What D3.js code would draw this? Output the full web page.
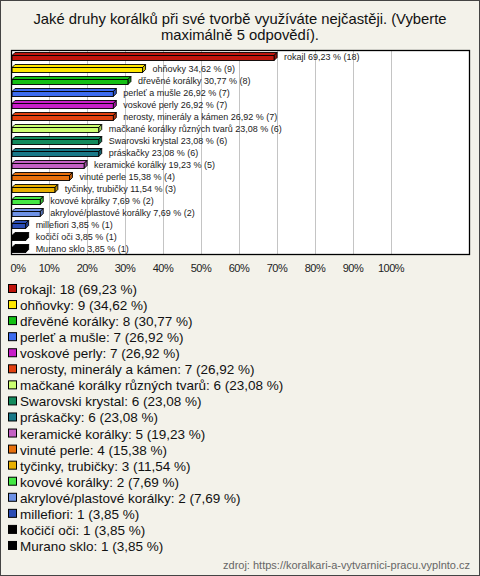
<!DOCTYPE html>
<html><head><meta charset="utf-8">
<script src="https://cdn.jsdelivr.net/npm/d3@7"></script>
<style>body{margin:0;background:#fff}svg{display:block}text{font-family:"Liberation Sans",Arial,sans-serif}</style>
</head><body><svg id="c" width="480" height="576"></svg>
<script>
const categories = ["rokajl","ohňovky","dřevěné korálky","perleť a mušle","voskové perly","nerosty, minerály a kámen","mačkané korálky různých tvarů","Swarovski krystal","práskačky","keramické korálky","vinuté perle","tyčinky, trubičky","kovové korálky","akrylové/plastové korálky","millefiori","kočičí oči","Murano sklo"];
const counts = [18,9,8,7,7,7,6,6,6,5,4,3,2,2,1,1,1];
const percents = [69.23,34.62,30.77,26.92,26.92,26.92,23.08,23.08,23.08,19.23,15.38,11.54,7.69,7.69,3.85,3.85,3.85];
const colors = ["#c0150c","#ffe800","#14c014","#3c6cf0","#c81ec8","#e3400f","#ccff70","#128a5c","#187888","#c460c4","#e8700c","#e8b000","#44e844","#6e92e6","#2a4cb4","#000000","#000000"];
const tickValues = [0,10,20,30,40,50,60,70,80,90,100];
const fmt = v => v.toFixed(2).replace(".", ",");

const svg = d3.select("#c");
svg.append("rect").attr("x",0.5).attr("y",0.5).attr("width",479).attr("height",575).attr("fill","#f3f2ea").attr("stroke","#444");
svg.append("text").attr("x",240).attr("y",24).attr("text-anchor","middle").attr("font-size",14.8).attr("fill","#111").text("Jaké druhy korálků při své tvorbě využíváte nejčastěji. (Vyberte");
svg.append("text").attr("x",240).attr("y",40).attr("text-anchor","middle").attr("font-size",14.8).attr("fill","#111").text("maximálně 5 odpovědí).");

const plot = {l:11, t:50, r:470, b:254};
const x = d3.scaleLinear().domain([0,100]).range([plot.l, plot.l+380]);
const y = d3.scaleBand().domain(categories).range([plot.t+1, plot.b+1]);

svg.append("rect").attr("x",plot.l).attr("y",plot.t).attr("width",plot.r-plot.l).attr("height",plot.b-plot.t).attr("fill","#fff");
svg.append("g").selectAll("line").data(tickValues.slice(1)).join("line")
  .attr("x1",d=>x(d)+0.5).attr("x2",d=>x(d)+0.5).attr("y1",plot.t).attr("y2",plot.b).attr("stroke","#c4c4c4");

const g = svg.append("g");
const rows = categories.map((c,i)=>({c, v:percents[i], n:counts[i], col:colors[i]}));
const dx = 3, dy = 3;
rows.forEach(d=>{
  const cy = y(d.c) + y.bandwidth()/2;
  const x0 = x(0)+1, x1 = Math.max(x(d.v), x0+3);
  const top = cy-1.5, bot = cy+3.5;
  const dark = d3.color(d.col).darker(0.6);
  g.append("path").attr("d",`M${x0},${top} L${x0+dx},${top-dy} L${x1+dx},${top-dy} L${x1},${top} Z`).attr("fill",d.col).attr("stroke","#000").attr("stroke-width",0.9);
  g.append("path").attr("d",`M${x1},${top} L${x1+dx},${top-dy} L${x1+dx},${bot-dy} L${x1},${bot} Z`).attr("fill",dark).attr("stroke","#000").attr("stroke-width",0.9);
  g.append("rect").attr("x",x0).attr("y",top).attr("width",x1-x0).attr("height",bot-top).attr("fill",d.col).attr("stroke","#000").attr("stroke-width",0.9);
  g.append("text").attr("x",x1+10).attr("y",cy+3).attr("font-size",9).attr("fill","#222")
    .text(`${d.c} ${fmt(d.v)} % (${d.n})`);
});
svg.append("rect").attr("x",plot.l+0.5).attr("y",plot.t+0.5).attr("width",plot.r-plot.l-1).attr("height",plot.b-plot.t).attr("fill","none").attr("stroke","#000").attr("stroke-width",1.3);

svg.append("g").selectAll("text").data(tickValues).join("text")
  .attr("x",d=> d===0 ? x(d)+7 : x(d)).attr("y",272).attr("text-anchor","middle").attr("font-size",11).attr("fill","#222").attr("letter-spacing",-0.5)
  .text(d=>d+"%");

const leg = svg.append("g");
rows.forEach((d,i)=>{
  const cy = 289 + i*16.06;
  leg.append("rect").attr("x",8.5).attr("y",cy-4.5).attr("width",8).attr("height",8).attr("fill",d.col).attr("stroke","#000");
  leg.append("text").attr("x",20).attr("y",cy+5).attr("font-size",13.5).attr("fill","#111")
    .text(`${d.c}: ${d.n} (${fmt(d.v)} %)`);
});
svg.append("text").attr("x",470).attr("y",569).attr("text-anchor","end").attr("font-size",11).attr("fill","#666")
  .text("zdroj: https://koralkari-a-vytvarnici-pracu.vyplnto.cz");
</script></body></html>
